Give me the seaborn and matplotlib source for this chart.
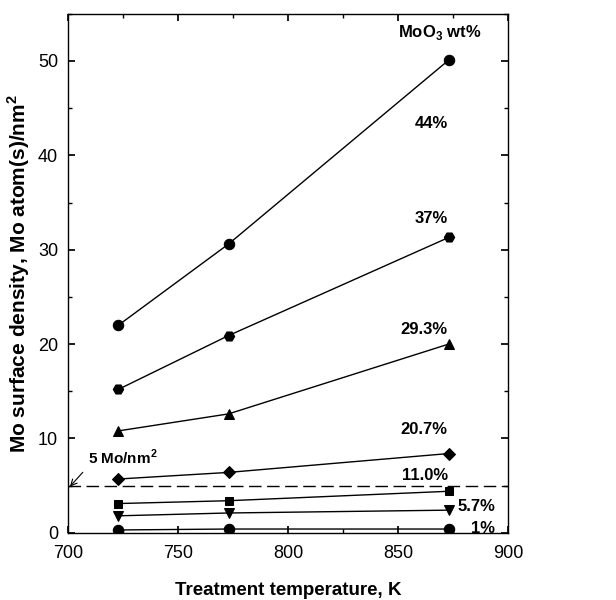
import matplotlib
matplotlib.use("Agg")
import matplotlib.pyplot as plt
import seaborn as sns
import pandas as pd
from matplotlib.ticker import MultipleLocator

temps = [723, 773, 873]
loadings = ["44%", "37%", "29.3%", "20.7%", "11.0%", "5.7%", "1%"]
d44 = [22.0, 30.6, 50.1]
d37 = [15.2, 20.9, 31.3]
d29 = [10.8, 12.6, 20.0]
d20 = [5.7, 6.4, 8.4]
d11 = [3.1, 3.4, 4.4]
d5 = [1.8, 2.1, 2.4]
d1 = [0.3, 0.4, 0.4]
series = [d44, d37, d29, d20, d11, d5, d1]
markers = ["o", "H", "^", "D", "s", "v", "o"]
msizes = [7.5, 7.5, 7, 6.5, 6, 7, 7.5]

# label positions (data coords)
label_pos = [(872.5, 43.4), (872.5, 33.3), (872.5, 21.5), (872.5, 10.9), (872.5, 6.1), (894, 2.75), (894, 0.5)]

rows = []
for lab, vals in zip(loadings, series):
    for t, v in zip(temps, vals):
        rows.append({"T": t, "density": v, "loading": lab})
df = pd.DataFrame(rows)

sns.set_theme(style="ticks")
plt.rcParams["font.family"] = ["Liberation Sans", "DejaVu Sans"]
plt.rcParams["text.color"] = "black"
plt.rcParams["axes.labelcolor"] = "black"
plt.rcParams["mathtext.fontset"] = "custom"
plt.rcParams["mathtext.rm"] = "Liberation Sans"
plt.rcParams["mathtext.bf"] = "Liberation Sans:bold"

fig = plt.figure(figsize=(6.16, 6.0), dpi=100)
ax = fig.add_axes([0.110, 0.112, 0.715, 0.865])

for lab, mk, ms in zip(loadings, markers, msizes):
    sub = df[df["loading"] == lab]
    sns.lineplot(data=sub, x="T", y="density", ax=ax, color="black", lw=1.0,
                 marker=mk, markersize=ms, markeredgecolor="black",
                 markerfacecolor="black", legend=False)

ax.axhline(5, color="black", lw=1.0, ls=(0, (9, 4)))

for lab, (x, y) in zip(loadings, label_pos):
    ax.text(x, y, lab, ha="right", va="center", fontsize=12, fontweight="bold")

ax.text(888, 53.0, r"MoO$_\mathbf{3}$ wt%", ha="right", va="center", fontsize=12, fontweight="bold")
ax.annotate(r"5 Mo/nm$^\mathbf{2}$", xy=(701, 4.9), xytext=(709, 8.0), fontsize=11, fontweight="bold",
            va="center", ha="left",
            arrowprops=dict(arrowstyle="->", color="black", lw=0.8, shrinkA=2, shrinkB=0,
                            relpos=(0.0, 0.0)))

ax.set_xlim(700, 900)
ax.set_ylim(0, 55)
ax.set_xticks([700, 750, 800, 850, 900])
ax.set_yticks([0, 10, 20, 30, 40, 50])
ax.xaxis.set_minor_locator(MultipleLocator(25))
ax.yaxis.set_minor_locator(MultipleLocator(5))
ax.tick_params(which="both", direction="in", top=True, right=True, colors="black", labelsize=13)
ax.tick_params(axis="x", which="major", pad=9)
ax.tick_params(axis="y", which="major", pad=7)
ax.tick_params(which="major", length=5)
ax.tick_params(which="minor", length=3)
for s in ax.spines.values():
    s.set_color("black")
    s.set_linewidth(1.0)

ax.set_xlabel("Treatment temperature, K", fontsize=13.5, fontweight="bold", labelpad=14)
ax.set_ylabel(r"Mo surface density, Mo atom(s)/nm$^\mathbf{2}$", fontsize=15, fontweight="bold", labelpad=4)

fig.savefig("out.png", dpi=100)
